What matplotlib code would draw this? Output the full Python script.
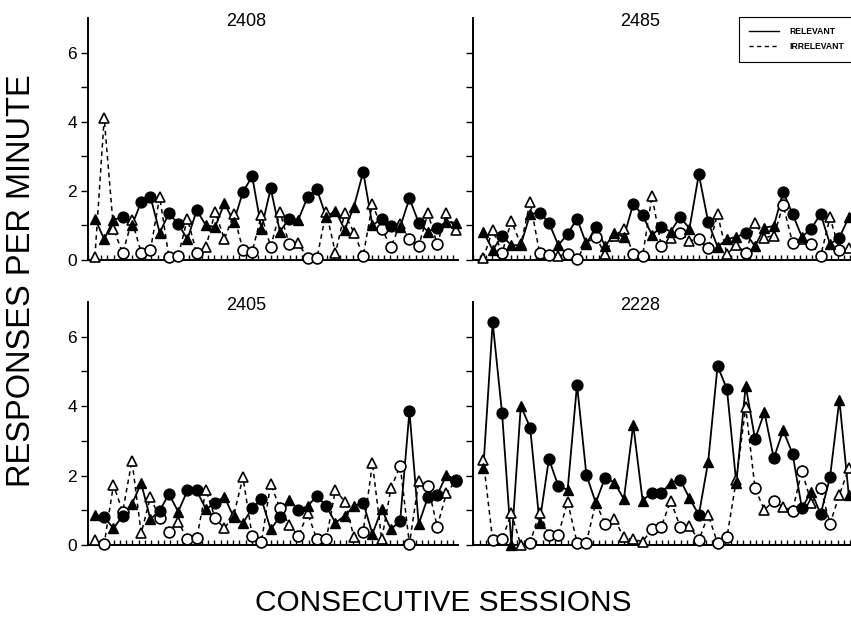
import numpy as np
import matplotlib
matplotlib.use("Agg")
import matplotlib.pyplot as plt
from matplotlib.lines import Line2D

plt.rcParams['font.family'] = ['Liberation Sans', 'DejaVu Sans']

subjects = ["2408", "2485", "2405", "2228"]
sessions = np.arange(1, 41)

# T = triangle, C = circle (stimulus shown that session)
shapes_2408 = "TTTCTCCTCCTCTTTTCCTC" + "TCTCCTTTTCTCCTCCTCTT"
rel_2408 = [1.2, 0.6, 1.17, 1.23, 1.0, 1.68, 1.83, 0.79, 1.35, 1.04,
            0.6, 1.44, 1.0, 0.96, 1.65, 1.1, 1.97, 2.42, 0.91, 2.07,
            0.82, 1.2, 1.17, 1.83, 2.04, 1.25, 1.42, 0.88, 1.54, 2.55,
            1.0, 1.2, 0.98, 0.96, 1.78, 1.08, 0.82, 0.94, 1.1, 1.08]
irr_2408 = [0.1, 4.1, 0.91, 0.19, 1.15, 0.21, 0.29, 1.83, 0.08, 0.12,
            1.2, 0.19, 0.38, 1.39, 0.6, 1.33, 0.29, 0.24, 1.3, 0.38,
            1.39, 0.46, 0.48, 0.05, 0.05, 1.4, 0.2, 1.35, 0.79, 0.12,
            1.63, 0.91, 0.37, 1.05, 0.6, 0.4, 1.35, 0.46, 1.35, 0.87]

shapes_2485 = "TTCTTTCCTCCTCTTTCCTC" + "TCTCCTTTCTTTCCTCCTCT"
rel_2485 = [0.82, 0.29, 0.69, 0.43, 0.43, 1.33, 1.37, 1.08, 0.43, 0.75,
            1.2, 0.46, 0.96, 0.4, 0.77, 0.67, 1.62, 1.3, 0.72, 0.96,
            0.82, 1.25, 0.91, 2.48, 1.1, 0.38, 0.6, 0.67, 0.77, 0.4,
            0.94, 0.98, 1.97, 1.33, 0.67, 0.91, 1.33, 0.46, 0.65, 1.23]
irr_2485 = [0.05, 0.87, 0.21, 1.13, 0.45, 1.68, 0.21, 0.14, 0.12, 0.17,
            0.02, 0.5, 0.67, 0.17, 0.7, 0.91, 0.17, 0.12, 1.85, 0.4,
            0.63, 0.79, 0.56, 0.6, 0.34, 1.32, 0.17, 0.43, 0.21, 1.08,
            0.65, 0.7, 1.59, 0.5, 0.6, 0.46, 0.12, 1.23, 0.3, 0.34]

shapes_2405 = "TCTCTTTCCTCCTCTTTCCT" + "CTCTCCTTTCTTTCCTCCTC"
rel_2405 = [0.87, 0.8, 0.48, 0.84, 1.18, 1.78, 0.74, 0.99, 1.47, 0.96,
            1.57, 1.57, 1.03, 1.22, 1.39, 0.8, 0.63, 1.06, 1.32, 0.45,
            0.82, 1.3, 1.01, 1.12, 1.42, 1.12, 0.64, 0.84, 1.12, 1.22,
            0.32, 1.03, 0.45, 0.7, 3.85, 0.6, 1.38, 1.44, 2.02, 1.88]
irr_2405 = [0.14, 0.03, 1.73, 0.96, 2.43, 0.34, 1.38, 0.77, 0.38, 0.67,
            0.16, 0.19, 1.59, 0.77, 0.48, 0.85, 1.95, 0.26, 0.1, 1.76,
            1.06, 0.58, 0.26, 0.91, 0.16, 0.16, 1.59, 1.25, 0.24, 0.38,
            2.36, 0.16, 1.63, 2.28, 0.03, 1.83, 1.7, 0.53, 1.49, 1.85]

shapes_2228 = "TCCTTCTCCTCCTCTTTTCC" + "TCTCTCCTTCTCTCCTCCTT"
rel_2228 = [2.21, 6.41, 3.8, 0.0, 4.01, 3.38, 0.64, 2.48, 1.7, 1.59,
            4.62, 2.02, 1.22, 1.94, 1.8, 1.32, 3.46, 1.28, 1.51, 1.49,
            1.8, 1.88, 1.35, 0.87, 2.4, 5.16, 4.49, 1.78, 4.59, 3.05,
            3.82, 2.5, 3.3, 2.63, 1.06, 1.54, 0.89, 1.95, 4.18, 1.44]
irr_2228 = [2.45, 0.13, 0.16, 0.91, 0.0, 0.07, 0.93, 0.29, 0.29, 1.25,
            0.07, 0.07, 1.22, 0.61, 0.74, 0.22, 0.16, 0.1, 0.45, 0.53,
            1.28, 0.53, 0.55, 0.13, 0.87, 0.05, 0.22, 1.88, 3.97, 1.63,
            1.01, 1.28, 1.09, 0.99, 2.14, 1.22, 1.63, 0.61, 1.44, 2.21]

panels = [
    (shapes_2408, rel_2408, irr_2408),
    (shapes_2485, rel_2485, irr_2485),
    (shapes_2405, rel_2405, irr_2405),
    (shapes_2228, rel_2228, irr_2228),
]

W, H = 851, 617
fig = plt.figure(figsize=(W / 100, H / 100), dpi=100)


def px_box(l, t, r, b):
    return [l / W, 1 - b / H, (r - l) / W, (b - t) / H]


boxes = [px_box(88, 18, 458, 260), px_box(473, 18, 851, 260),
         px_box(88, 302, 458, 545), px_box(473, 302, 851, 545)]
xlims = [(0.25, 40.25), (-0.1, 40.24), (0.25, 40.25), (-0.1, 40.24)]
title_pos = [(246, 22), (640, 22), (246, 305), (640, 305)]

ms = 7.8
for i, (shapes, rel, irr) in enumerate(panels):
    ax = fig.add_axes(boxes[i])
    rel = np.array(rel)
    irr = np.array(irr)
    tri = np.array([s == "T" for s in shapes])
    circ = ~tri

    ax.plot(sessions, irr, color="black", lw=1.1, dashes=(3, 2.5), zorder=2)
    ax.plot(sessions, rel, color="black", lw=1.3, zorder=2)
    for mask, mk in ((tri, "^"), (circ, "o")):
        ax.plot(sessions[mask], irr[mask], ls="none", marker=mk, ms=ms,
                mfc="white", mec="black", mew=1.2, zorder=3, clip_on=False)
        ax.plot(sessions[mask], rel[mask], ls="none", marker=mk, ms=ms,
                mfc="black", mec="black", mew=1.0, zorder=4, clip_on=False)

    ax.set_xlim(*xlims[i])
    ax.set_ylim(0, 7)
    step = 0.68 if i % 2 == 0 else 0.67
    ax.set_xticks(np.arange(xlims[i][0] + 0.05, xlims[i][1], step))
    ax.set_xticklabels([])
    ax.tick_params(axis="x", direction="in", length=3.5, width=1.0)
    ax.set_yticks([0, 2, 4, 6])
    ax.set_yticks([1, 3, 5], minor=True)
    ax.tick_params(axis="y", which="both", direction="out", length=5,
                   width=1.0, labelsize=12.5, pad=3)
    if i % 2 == 1:
        ax.set_yticklabels([])
    for side in ("top", "right"):
        ax.spines[side].set_visible(False)
    for side in ("left", "bottom"):
        ax.spines[side].set_linewidth(1.4)
    ax.patch.set_alpha(0)

    tx, ty = title_pos[i]
    fig.text(tx / W, 1 - ty / H, subjects[i], fontsize=13,
             ha="center", va="center")

fig.text(22 / W, 1 - 281 / H, "RESPONSES PER MINUTE", rotation=90,
         fontsize=23.5, ha="center", va="center")
fig.text(443 / W, 1 - 603 / H, "CONSECUTIVE SESSIONS", fontsize=21.5,
         ha="center", va="center")

handles = [Line2D([], [], color="black", lw=1.0),
           Line2D([], [], color="black", lw=1.0, dashes=(3, 2.5))]
leg = fig.legend(handles, ["RELEVANT", "IRRELEVANT"], loc="upper left",
                 bbox_to_anchor=(739 / W, 1 - 17 / H), borderaxespad=0,
                 prop={"size": 6.2, "weight": "bold"}, handlelength=3.4,
                 handletextpad=1.3, borderpad=1.2, labelspacing=0.7,
                 fancybox=False, edgecolor="black", framealpha=1)
leg.get_frame().set_linewidth(0.8)

fig.savefig("out.png", dpi=100)
